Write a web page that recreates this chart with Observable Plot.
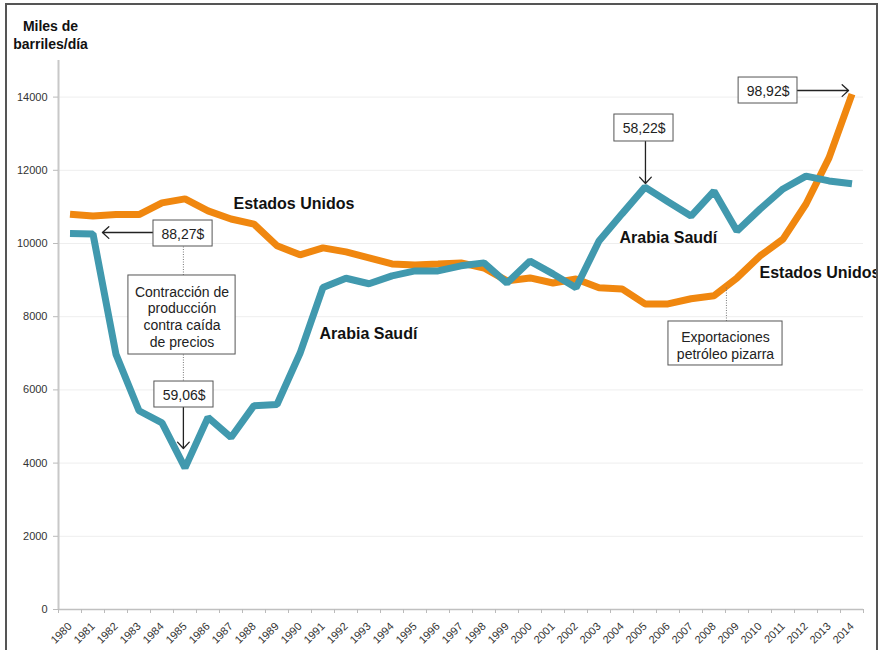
<!DOCTYPE html>
<html><head><meta charset="utf-8">
<script src="https://cdn.jsdelivr.net/npm/d3@7"></script>
<script src="https://cdn.jsdelivr.net/npm/@observablehq/plot@0.6"></script>
<style>
body{margin:0;background:#fff;}
#frame{position:absolute;left:5px;top:3px;width:869px;height:700px;border:2px solid #555;overflow:hidden;background:#fff;}
#chart{position:absolute;left:-7px;top:-5px;width:881px;height:650px;}
#chart svg{max-width:none;}
</style></head><body>
<div id="frame"><div id="chart"></div></div>
<script>
const years = [1980,1981,1982,1983,1984,1985,1986,1987,1988,1989,1990,1991,1992,1993,1994,1995,1996,1997,1998,1999,2000,2001,2002,2003,2004,2005,2006,2007,2008,2009,2010,2011,2012,2013,2014];
const saudi = [10270,10260,6970,5430,5100,3870,5250,4700,5570,5600,7000,8800,9050,8900,9115,9250,9250,9390,9470,8920,9520,9170,8790,10070,10810,11540,11140,10750,11430,10340,10940,11490,11840,11710,11630];
const usa = [10800,10750,10790,10790,11110,11220,10890,10670,10530,9940,9690,9880,9770,9610,9440,9415,9440,9470,9330,8980,9060,8920,9030,8790,8760,8350,8350,8490,8570,9060,9660,10120,11080,12340,14080];
const yTicks = [0,2000,4000,6000,8000,10000,12000,14000];
const yearBounds = [1979.5,1980.5,1981.5,1982.5,1983.5,1984.5,1985.5,1986.5,1987.5,1988.5,1989.5,1990.5,1991.5,1992.5,1993.5,1994.5,1995.5,1996.5,1997.5,1998.5,1999.5,2000.5,2001.5,2002.5,2003.5,2004.5,2005.5,2006.5,2007.5,2008.5,2009.5,2010.5,2011.5,2012.5,2013.5,2014.5];

const seriesLabels = [
  {x: 1987.11, y: 11093, text: "Estados Unidos"},
  {x: 1990.85, y: 7541, text: "Arabia Saudí"},
  {x: 2003.89, y: 10164, text: "Arabia Saudí"},
  {x: 2009.98, y: 9208, text: "Estados Unidos"}
];
const boxes = [
  {x1: 1983.63, x2: 1986.20, y1: 10628, y2: 9918},
  {x1: 1982.54, x2: 1987.20, y1: 9126, y2: 6967},
  {x1: 1983.67, x2: 1986.24, y1: 6229, y2: 5519},
  {x1: 2003.67, x2: 2006.24, y1: 13524, y2: 12787},
  {x1: 2009.07, x2: 2011.63, y1: 14535, y2: 13825},
  {x1: 2006.02, x2: 2010.98, y1: 7869, y2: 6667}
];
const boxTexts = [
  {x: 1984.91, y: 10273, text: "88,27$"},
  {x: 1984.87, y: 8005, text: "Contracción de\nproducción\ncontra caída\nde precios"},
  {x: 1984.96, y: 5874, text: "59,06$"},
  {x: 2004.96, y: 13156, text: "58,22$"},
  {x: 2010.35, y: 14180, text: "98,92$"},
  {x: 2008.50, y: 7227, text: "Exportaciones\npetróleo pizarra"}
];
const arrows = [
  {x1: 1983.63, y1: 10300, x2: 1981.41, y2: 10300},
  {x1: 1984.93, y1: 5519, x2: 1984.93, y2: 4399},
  {x1: 2005.02, y1: 12787, x2: 2005.02, y2: 11639},
  {x1: 2011.63, y1: 14180, x2: 2013.85, y2: 14180}
];
const dotted = [
  {x1: 1984.93, y1: 9918, x2: 1984.93, y2: 9126},
  {x1: 1984.93, y1: 6967, x2: 1984.93, y2: 6229},
  {x1: 2008.54, y1: 8798, x2: 2008.54, y2: 7869}
];
const yTitle = "Miles de\nbarriles/día";

const usData = years.map((year, i) => ({year, value: usa[i]}));
const saData = years.map((year, i) => ({year, value: saudi[i]}));

const chart = Plot.plot({
  width: 881, height: 650,
  marginLeft: 58, marginRight: 18, marginTop: 60, marginBottom: 41,
  style: {fontFamily: "'Liberation Sans', Arial, Helvetica, sans-serif", background: "transparent", color: "#222", overflow: "visible", maxWidth: "none"},
  x: {domain: [1979.5, 2014.5], axis: null},
  y: {domain: [0, 15000], axis: null},
  marks: [
    Plot.ruleY(yTicks.filter(d => d > 0), {stroke: "#eeeeee", strokeWidth: 1}),
    Plot.ruleX([1979.5], {stroke: "#c8c8c8", strokeWidth: 2}),
    Plot.ruleY([0], {stroke: "#c0c0c0", strokeWidth: 1.5}),
    Plot.axisY(yTicks, {tickSize: 5, tickPadding: 6, stroke: "#bbb", fill: "#333", fontSize: 11, tickFormat: "d", label: null}),
    Plot.axisX(yearBounds, {tickSize: 4, stroke: "#bbb", tickFormat: () => "", label: null}),
    Plot.axisX(years, {tickSize: 0, tickRotate: -45, tickPadding: 15, fill: "#333", fontSize: 11, tickFormat: "d", label: null}),
    Plot.line(usData, {x: "year", y: "value", stroke: "#F0870F", strokeWidth: 7, strokeLinejoin: "miter", strokeLinecap: "butt"}),
    Plot.line(saData, {x: "year", y: "value", stroke: "#4199AE", strokeWidth: 7, strokeLinejoin: "miter", strokeLinecap: "butt"}),
    Plot.link(dotted, {x1: "x1", y1: "y1", x2: "x2", y2: "y2", stroke: "#777", strokeWidth: 1, strokeDasharray: "1,1.5"}),
    Plot.arrow(arrows, {x1: "x1", y1: "y1", x2: "x2", y2: "y2", stroke: "#222", strokeWidth: 1.3, headLength: 10, headAngle: 85}),
    Plot.rect(boxes, {x1: "x1", x2: "x2", y1: "y1", y2: "y2", fill: "white", stroke: "#555", strokeWidth: 1}),
    Plot.text(boxTexts, {x: "x", y: "y", text: "text", fontSize: 14, fill: "#222", lineHeight: 1.21}),
    Plot.text(seriesLabels, {x: "x", y: "y", text: "text", textAnchor: "start", fontSize: 16, fontWeight: "bold", fill: "#111"}),
    Plot.text([yTitle], {x: 1979.5, y: 15000, text: d => d, dx: -8, dy: -26, fontSize: 14, fontWeight: "bold", fill: "#111", lineHeight: 1.29})
  ]
});
document.getElementById("chart").appendChild(chart);
</script>
</body></html>
